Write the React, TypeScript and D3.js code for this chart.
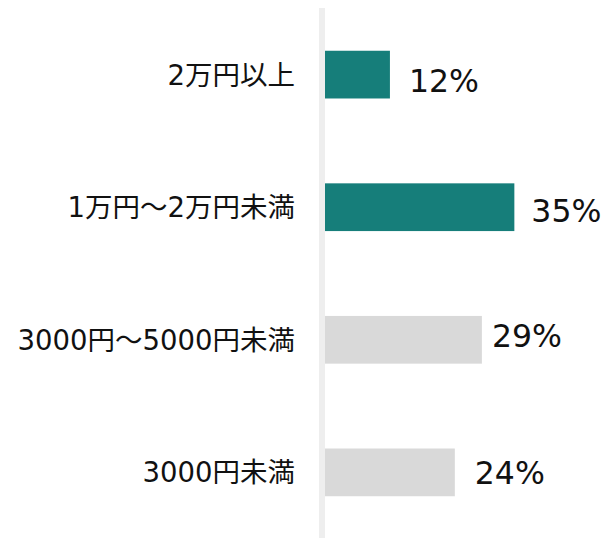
import React from "react";
import * as d3 from "d3";

const categories = ["2万円以上", "1万円～2万円未満", "3000円～5000円未満", "3000円未満"];
const values = [12, 35, 29, 24];
const highlighted = [true, true, false, false];
const valueLabels = ["12%", "35%", "29%", "24%"];
// small per-label nudges (dx, dy) as in the original layout
const labelNudgeX = [19, 17, 10, 20];
const labelNudgeY = [6, 4, -4, 1];

const W = 609;
const H = 538;
const FONT = "'DejaVu Sans', 'Noto Sans CJK JP', sans-serif";

export default function App() {
  const x = d3.scaleLinear().domain([0, 100]).range([325, 325 + 541]);
  const y = d3
    .scaleBand<string>()
    .domain(categories)
    .range([7, 540])
    .paddingInner(0.64)
    .paddingOuter(0.33);

  return (
    <svg
      width={W}
      height={H}
      style={{ position: "absolute", left: 0, top: 0, background: "#fff" }}
    >
      <rect x={319} y={8} width={6} height={H - 8} fill="#eeeeee" />
      {categories.map((c, i) => {
        const y0 = y(c)!;
        const bw = y.bandwidth();
        const cy = y0 + bw / 2;
        return (
          <g key={c}>
            <rect
              x={x(0)}
              y={y0}
              width={x(values[i]) - x(0)}
              height={bw}
              fill={highlighted[i] ? "#167e7a" : "#d9d9d9"}
            />
            <text
              x={295}
              y={cy}
              textAnchor="end"
              dominantBaseline="central"
              fontFamily={FONT}
              fontSize={27.5}
              fill="#111"
            >
              {c}
            </text>
            <text
              x={x(values[i]) + labelNudgeX[i]}
              y={cy + labelNudgeY[i]}
              dominantBaseline="central"
              fontFamily={FONT}
              fontSize={31.5}
              fill="#111"
            >
              {valueLabels[i]}
            </text>
          </g>
        );
      })}
    </svg>
  );
}
